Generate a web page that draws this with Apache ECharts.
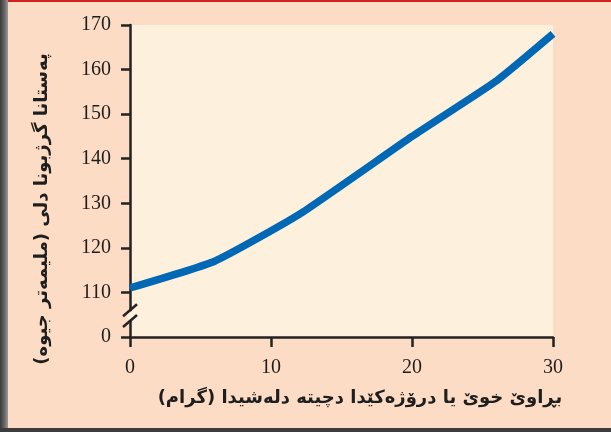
<!DOCTYPE html>
<html>
<head>
<meta charset="utf-8">
<script src="https://cdn.jsdelivr.net/npm/echarts@6/dist/echarts.min.js"></script>
<style>
  html, body { margin: 0; padding: 0; background: #fcdcc4; }
  #chart { width: 611px; height: 432px; }
</style>
</head>
<body>
<div id="chart"></div>
<script>
// Salt intake (grams per day) against systolic blood pressure (mmHg)
const saltGrams = [0, 6, 12, 20, 26, 30];
const pressure = [111, 117, 127.5, 145, 157.5, 168];

// Y ticks: the lowest tick stands for 0 across an axis break
const yTickValues = [100, 110, 120, 130, 140, 150, 160, 170];
const yTickLabels = ['0', '110', '120', '130', '140', '150', '160', '170'];
const xTickLabels = ['0', '10', '20', '30'];

const xTitle = 'بڕاوێ خوێ یا درۆژەکێدا دچیتە دلەشیدا (گرام)';
const yTitle = 'پەستانا گرژبونا دلی (ملیمەتر جیوە)';

const chart = echarts.init(document.getElementById('chart'), null, { renderer: 'canvas' });

const tickFont = { fontFamily: 'Liberation Serif', fontSize: 20, color: '#1e1e1e' };

chart.setOption({
  backgroundColor: '#fcdcc4',
  animation: false,
  grid: {
    left: 130, right: 58, top: 25, bottom: 95,
    show: true, backgroundColor: '#fdf0dc', borderWidth: 0
  },
  xAxis: {
    type: 'value', min: 0, max: 30, interval: 10,
    axisLine: { lineStyle: { color: '#222', width: 2.5 } },
    axisTick: { length: 10, lineStyle: { color: '#222', width: 2.5 } },
    axisLabel: Object.assign({ margin: 21, formatter: v => xTickLabels[Math.round(v / 10)] }, tickFont),
    splitLine: { show: false }
  },
  yAxis: {
    type: 'value', min: 100, max: 170, interval: 10,
    axisLine: { show: true, lineStyle: { color: '#222', width: 2.5 } },
    axisTick: { show: true, length: 9, lineStyle: { color: '#222', width: 2.5 } },
    axisLabel: Object.assign({
      margin: 19,
      formatter: v => yTickLabels[yTickValues.indexOf(Math.round(v))]
    }, tickFont),
    splitLine: { show: false }
  },
  series: [{
    type: 'line',
    data: saltGrams.map((x, i) => [x, pressure[i]]),
    showSymbol: false,
    smooth: 0.15,
    lineStyle: { color: '#0068b4', width: 7.5, cap: 'butt' },
    z: 3
  }]
});

// Axis break marks and frame decorations
const ax = chart.convertToPixel({ xAxisIndex: 0 }, 0);
const yA = chart.convertToPixel({ yAxisIndex: 0 }, 106);
const yB = chart.convertToPixel({ yAxisIndex: 0 }, 103.6);

chart.setOption({
  graphic: [
    { type: 'rect', shape: { x: 0, y: 0, width: 611, height: 2 }, style: { fill: '#d21f1f' }, z: 10 },
    { type: 'rect', shape: { x: 0, y: 0, width: 8, height: 432 },
      style: { fill: new echarts.graphic.LinearGradient(0, 0, 1, 0, [
        { offset: 0, color: '#3a3a3a' }, { offset: 0.6, color: '#6a6a6a' }, { offset: 1, color: '#9a9a9a' }
      ]) }, z: 10 },
    { type: 'rect', shape: { x: 0, y: 428, width: 611, height: 4 }, style: { fill: '#3c3c3c' }, z: 10 },
    { type: 'rect', shape: { x: ax - 3, y: yA + 1, width: 6, height: yB - yA - 2 }, style: { fill: '#fdf0dc' }, z: 20 },
    { type: 'line', shape: { x1: ax - 7, y1: yA + 6, x2: ax + 7, y2: yA - 6 }, style: { stroke: '#222', lineWidth: 2.5 }, z: 21 },
    { type: 'line', shape: { x1: ax - 7, y1: yB + 6, x2: ax + 7, y2: yB - 6 }, style: { stroke: '#222', lineWidth: 2.5 }, z: 21 },
    { type: 'text', x: 360, y: 398, z: 20,
      style: { text: xTitle, fontFamily: 'DejaVu Sans', fontWeight: 'bold', fontSize: 18, fill: '#1e1e1e',
               align: 'center', verticalAlign: 'middle' } },
    { type: 'text', x: 42, y: 209, rotation: Math.PI / 2, z: 20,
      style: { text: yTitle, fontFamily: 'DejaVu Sans', fontWeight: 'bold', fontSize: 18, fill: '#1e1e1e',
               align: 'center', verticalAlign: 'middle' } }
  ]
});
</script>
</body>
</html>
